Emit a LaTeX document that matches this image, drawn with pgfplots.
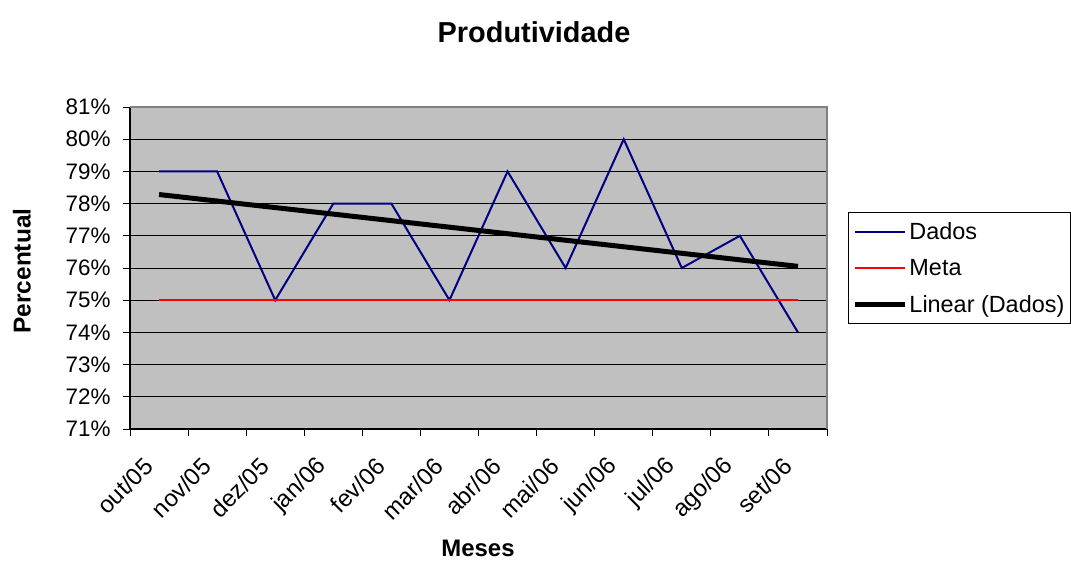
\documentclass[border=0pt]{standalone}
\usepackage{pgfplots}
\pgfplotsset{compat=1.18}
\usepackage{fontspec}
\setmainfont{Liberation Sans}
\definecolor{plotbg}{HTML}{C0C0C0}
\definecolor{navy}{HTML}{000080}
\definecolor{frame}{HTML}{808080}
\begin{document}
\begin{tikzpicture}[x=1bp,y=1bp]
\useasboundingbox (0,0) rectangle (1071,-561);
\begin{axis}[
  at={(130bp,-429bp)}, anchor=south west,
  scale only axis, width=697bp, height=322bp,
  xmin=0.5, xmax=12.5, ymin=71, ymax=81,
  axis background/.style={fill=plotbg},
  axis line style={draw=none},
  xtick={1,...,12},
  xticklabels={out/05,nov/05,dez/05,jan/06,fev/06,mar/06,abr/06,mai/06,jun/06,jul/06,ago/06,set/06},
  minor xtick={0.5,1.5,...,12.5},
  major x tick style={draw=none},
  minor x tick style={black, line width=1bp},
  ytick={71,...,81},
  yticklabels={71\%,72\%,73\%,74\%,75\%,76\%,77\%,78\%,79\%,80\%,81\%},
  y tick style={black, line width=1bp},
  major tick length=7bp, minor tick length=7bp,
  tick align=outside,
  xtick pos=bottom, ytick pos=left,
  ymajorgrids, grid style={black, line width=0.9bp},
  xticklabel style={xshift=-8bp, yshift=-24bp, rotate=45, anchor=east, font=\fontsize{24}{24}\selectfont},
  yticklabel style={font=\fontsize{22.5}{22.5}\selectfont, xshift=-9bp},
  legend style={at={(1.0301,0.674)}, anchor=north west, draw=black, line width=1bp,
    font=\fontsize{23.5}{23.5}\selectfont, row sep=14.5bp, inner xsep=4bp, inner ysep=8bp,
    cells={anchor=west}},
  legend image code/.code={\draw[#1] (0bp,0bp) -- (50bp,0bp);},
  legend cell align=left,
  clip=false,
]
\addplot[navy, line width=2bp, mark=none] coordinates {
(1,79) (2,79) (3,75) (4,78) (5,78) (6,75) (7,79) (8,76) (9,80) (10,76) (11,77) (12,74)};
\addlegendentry{Dados}
\addplot[red, line width=2bp, mark=none] coordinates {
(1,75) (2,75) (3,75) (4,75) (5,75) (6,75) (7,75) (8,75) (9,75) (10,75) (11,75) (12,75)};
\addlegendentry{Meta}
\addplot[black, line width=5bp, mark=none] coordinates {(1,78.282) (12,76.051)};
\addlegendentry{Linear (Dados)}
\draw[black, line width=1.5bp] (axis cs:0.5,81) -- (axis cs:0.5,71) -- (axis cs:12.5,71);
\draw[frame, line width=2bp] (axis cs:0.5,81) -- (axis cs:12.5,81) -- (axis cs:12.5,71);
\end{axis}
\node[font=\bfseries\fontsize{29}{29}\selectfont] at (534,-32) {Produtividade};
\node[font=\bfseries\fontsize{24.5}{24.5}\selectfont, rotate=90] at (22,-271) {Percentual};
\node[font=\bfseries\fontsize{24}{24}\selectfont] at (478,-548) {Meses};
\end{tikzpicture}
\end{document}
